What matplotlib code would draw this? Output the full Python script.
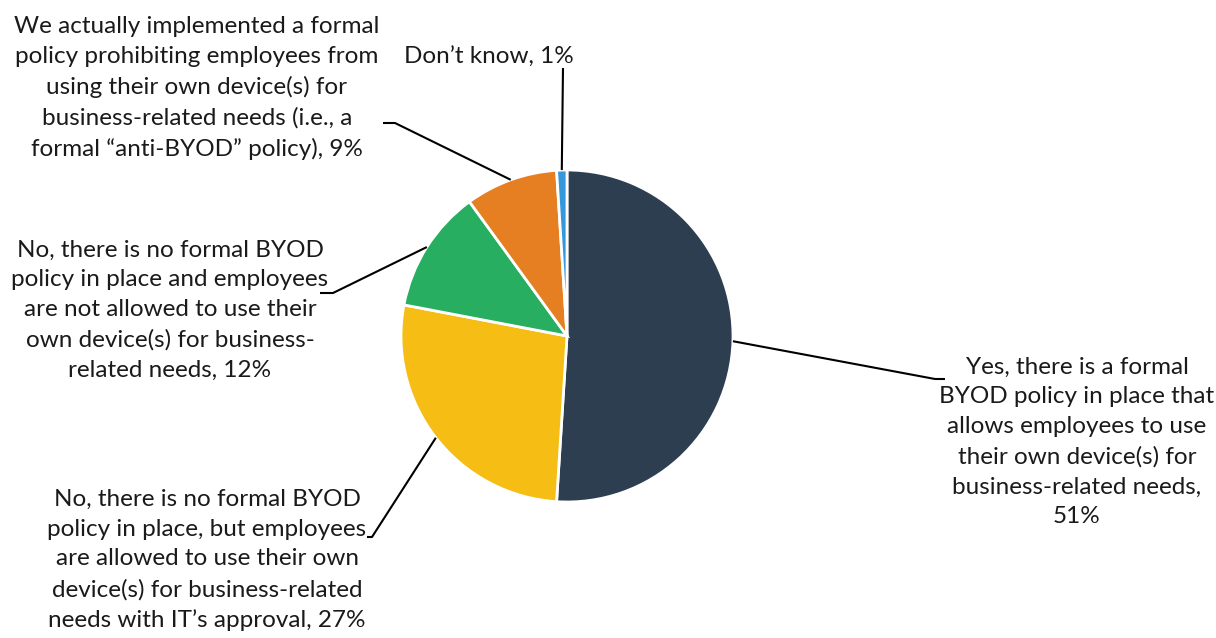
import numpy as np
import matplotlib
matplotlib.use("Agg")
import matplotlib.pyplot as plt

labels = [
    "Yes, there is a formal\nBYOD policy in place that\nallows employees to use\ntheir own device(s) for\nbusiness-related needs,\n51%",
    "No, there is no formal BYOD\npolicy in place, but employees\nare allowed to use their own\ndevice(s) for business-related\nneeds with IT\u2019s approval, 27%",
    "No, there is no formal BYOD\npolicy in place and employees\nare not allowed to use their\nown device(s) for business-\nrelated needs, 12%",
    "We actually implemented a formal\npolicy prohibiting employees from\nusing their own device(s) for\nbusiness-related needs (i.e., a\nformal \u201canti-BYOD\u201d policy), 9%",
    "Don\u2019t know, 1%",
]
values = [51, 27, 12, 9, 1]
colors = ["#2D3E50", "#F6BE14", "#28AE60", "#E67F22", "#3498DB"]

W, H = 1216, 638
fig = plt.figure(figsize=(W / 100, H / 100), dpi=100)
ax = fig.add_axes([0, 0, 1, 1])

cx, cy, r = 567, H - 336, 166
wedges, _ = ax.pie(values, colors=colors, startangle=90, counterclock=False,
                   center=(cx, cy), radius=r, frame=True,
                   wedgeprops=dict(edgecolor="white", linewidth=2))
ax.set_xlim(0, W)
ax.set_ylim(0, H)
ax.axis("off")

# label layout: (elbow x, elbow y, end x, text x, text y)
layout = [
    (935, H - 379, 945, 1077, H - 442),
    (372, H - 537, 367, 207, H - 560),
    (333, H - 293, 320, 170, H - 310),
    (395, H - 123, 383, 197, H - 88),
    (563, H - 68, 563, 489, H - 57),
]

font = ["Lato", "DejaVu Sans"]
for w, lab, (ex, ey, endx, tx, ty) in zip(wedges, labels, layout):
    ang = np.deg2rad((w.theta1 + w.theta2) / 2)
    px = cx + r * np.cos(ang)
    py = cy + r * np.sin(ang)
    ax.plot([px, ex, endx], [py, ey, ey], color="black", lw=1.5,
            solid_capstyle="butt", zorder=3)
    ax.text(tx, ty, lab, ha="center", va="center", fontsize=17.5,
            family=font, color="#1a1a1a", linespacing=1.52)

fig.savefig("out.png", dpi=100)
